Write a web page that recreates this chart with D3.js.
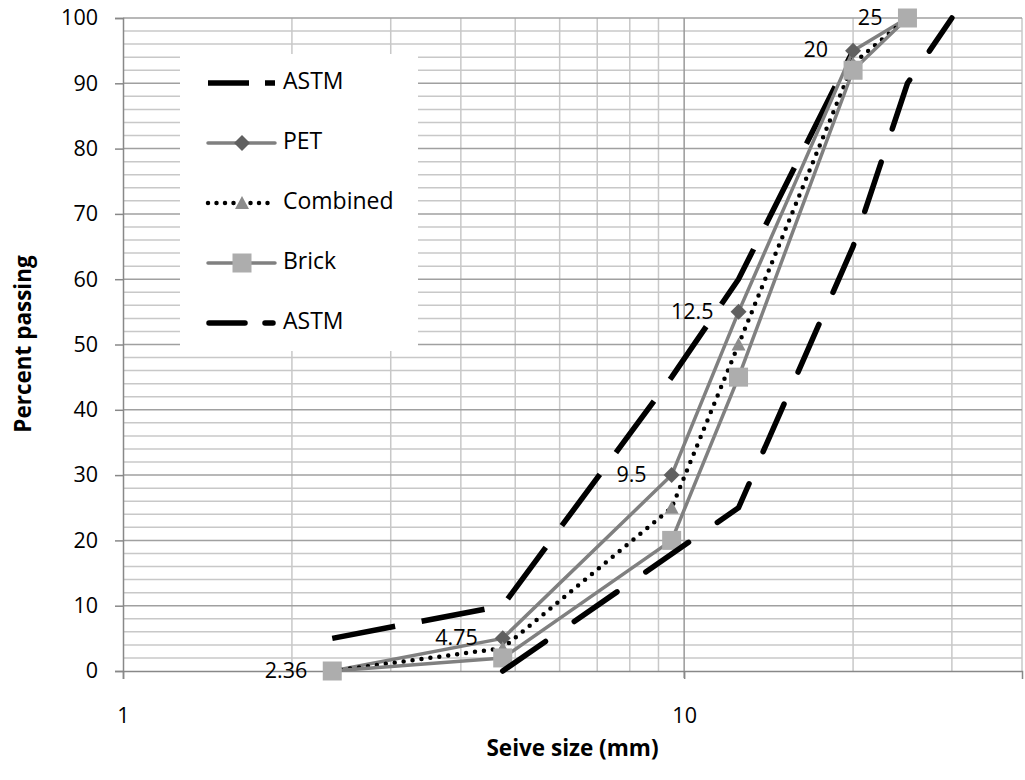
<!DOCTYPE html>
<html>
<head>
<meta charset="utf-8">
<script src="https://cdn.jsdelivr.net/npm/d3@7"></script>
<style>
  body { margin: 0; background: #fff; }
  text { font-family: "Open Sans", "Noto Sans", sans-serif; }
</style>
</head>
<body>
<script>
// sieve sizes (mm) and percent passing for each material
const sieveSizes = [2.36, 4.75, 9.5, 12.5, 20, 25];
const pet = [0, 5, 30, 55, 95, 100];
const combined = [0, 3.5, 25, 50, 93, 100];
const brick = [0, 2, 20, 45, 92, 100];

// ASTM limits, upper and lower
const astmUpperSizes = [2.36, 4.75, 9.5, 12.5, 20];
const astmUpper = [5, 10, 45, 60, 95];
const astmLowerSizes = [4.75, 12.5, 20, 25, 30];
const astmLower = [0, 25, 65, 90, 100];

const yTicks = [0, 10, 20, 30, 40, 50, 60, 70, 80, 90, 100];
const xTickLabels = [1, 10];
const legendNames = ["ASTM", "PET", "Combined", "Brick", "ASTM"];

const w = 1025;
const h = 780;
const plotLeft = 123, plotRight = 1022, plotTop = 18, plotBottom = 671;

const svg = d3.select("body")
  .append("svg")
  .attr("width", w)
  .attr("height", h);

const x = d3.scaleLog().domain([1, 40]).range([plotLeft, plotRight]);
const y = d3.scaleLinear().domain([0, 100]).range([plotBottom, plotTop]);

// gridlines
const minorY = d3.range(0, 101, 2).filter(d => d % 10 != 0);
svg.selectAll(".hminor")
  .data(minorY)
  .enter()
  .append("line")
  .attr("x1", plotLeft).attr("x2", plotRight)
  .attr("y1", d => y(d)).attr("y2", d => y(d))
  .attr("stroke", "#c8c8c8").attr("stroke-width", 1.5);

const minorX = [2, 3, 4, 5, 6, 7, 8, 9, 20, 30, 40];
svg.selectAll(".vminor")
  .data(minorX)
  .enter()
  .append("line")
  .attr("x1", d => x(d)).attr("x2", d => x(d))
  .attr("y1", plotTop).attr("y2", plotBottom)
  .attr("stroke", "#c8c8c8").attr("stroke-width", 1.5);

svg.selectAll(".hmajor")
  .data(yTicks.filter(d => d > 0))
  .enter()
  .append("line")
  .attr("x1", plotLeft).attr("x2", plotRight)
  .attr("y1", d => y(d)).attr("y2", d => y(d))
  .attr("stroke", "#a0a0a0").attr("stroke-width", 1.5);

svg.append("line")
  .attr("x1", x(10)).attr("x2", x(10))
  .attr("y1", plotTop).attr("y2", plotBottom + 7)
  .attr("stroke", "#999").attr("stroke-width", 1.5);

// axes
const yAxis = d3.axisLeft(y).tickValues(yTicks).tickSize(8).tickPadding(17);
const gy = svg.append("g").attr("transform", `translate(${plotLeft},0)`).call(yAxis);
gy.select(".domain").attr("stroke", "#888").attr("stroke-width", 1.5);
gy.selectAll(".tick line").attr("stroke", "#888").attr("stroke-width", 1.5);
gy.selectAll("text").attr("font-size", 21.5).attr("fill", "#000")
  .attr("font-family", "'Open Sans', sans-serif");

const xAxis = d3.axisBottom(x).tickValues(xTickLabels).tickFormat(d3.format("d")).tickSize(8).tickPadding(29);
const gx = svg.append("g").attr("transform", `translate(0,${plotBottom})`).call(xAxis);
gx.select(".domain").attr("stroke", "#888").attr("stroke-width", 1.5);
gx.selectAll(".tick line").attr("stroke", "#888").attr("stroke-width", 1.5);
gx.selectAll("text").attr("font-size", 21.5).attr("fill", "#000")
  .attr("font-family", "'Open Sans', sans-serif");

// axis titles
svg.append("text")
  .attr("x", (488 + 657) / 2).attr("y", 756)
  .attr("text-anchor", "middle")
  .attr("font-size", 22.5).attr("font-weight", "bold")
  .text("Seive size (mm)");

svg.append("text")
  .attr("transform", "translate(31,344) rotate(-90)")
  .attr("text-anchor", "middle")
  .attr("font-size", 22.5).attr("font-weight", "bold")
  .text("Percent passing");

// legend box sits under the series
svg.append("rect")
  .attr("x", 180).attr("y", 54)
  .attr("width", 238).attr("height", 297)
  .attr("fill", "#fff");

const line = d3.line().x(d => x(d[0])).y(d => y(d[1]));
const zip = (xs, ys) => xs.map((v, i) => [v, ys[i]]);

// upper ASTM
svg.append("path")
  .datum(zip(astmUpperSizes, astmUpper))
  .attr("d", line)
  .attr("fill", "none").attr("stroke", "#000")
  .attr("stroke-width", 5.5).attr("stroke-dasharray", "64,27");

// PET
svg.append("path")
  .datum(zip(sieveSizes, pet))
  .attr("d", line)
  .attr("fill", "none").attr("stroke", "#808080").attr("stroke-width", 3.5)
  .attr("stroke-linejoin", "round");
svg.selectAll(".pet")
  .data(zip(sieveSizes, pet))
  .enter()
  .append("path")
  .attr("transform", d => `translate(${x(d[0])},${y(d[1])})`)
  .attr("d", "M0,-8L8,0L0,8L-8,0Z")
  .attr("fill", "#606060");

// Combined
svg.append("path")
  .datum(zip(sieveSizes, combined))
  .attr("d", line)
  .attr("fill", "none").attr("stroke", "#000").attr("stroke-width", 4.5)
  .attr("stroke-linecap", "round").attr("stroke-dasharray", "0,9");
svg.selectAll(".comb")
  .data(zip(sieveSizes, combined))
  .enter()
  .append("path")
  .attr("transform", d => `translate(${x(d[0])},${y(d[1])})`)
  .attr("d", "M0,-7L7,6L-7,6Z")
  .attr("fill", "#8c8c8c");

// Brick
svg.append("path")
  .datum(zip(sieveSizes, brick))
  .attr("d", line)
  .attr("fill", "none").attr("stroke", "#808080").attr("stroke-width", 3.5)
  .attr("stroke-linejoin", "round");
svg.selectAll(".brick")
  .data(zip(sieveSizes, brick))
  .enter()
  .append("rect")
  .attr("x", d => x(d[0]) - 9.5).attr("y", d => y(d[1]) - 9.5)
  .attr("width", 19).attr("height", 19)
  .attr("fill", "#adadad");

// lower ASTM
svg.append("path")
  .datum(zip(astmLowerSizes, astmLower))
  .attr("d", line)
  .attr("fill", "none").attr("stroke", "#000")
  .attr("stroke-width", 5.5).attr("stroke-linecap", "round")
  .attr("stroke-dasharray", "52,35");

// point labels on PET
svg.selectAll(".lbl")
  .data(zip(sieveSizes, pet))
  .enter()
  .append("text")
  .attr("x", d => x(d[0]) - 25)
  .attr("y", d => y(d[1]) + 1)
  .attr("text-anchor", "end")
  .attr("dominant-baseline", "middle")
  .attr("font-size", 21.5)
  .text(d => d[0]);

// legend entries
const lg = svg.selectAll(".leg")
  .data(legendNames)
  .enter()
  .append("g")
  .attr("transform", (d, i) => `translate(207,${83 + i * 60})`);

lg.append("text")
  .attr("x", 76).attr("y", 0)
  .attr("dominant-baseline", "middle")
  .attr("font-size", 23)
  .text(d => d);

lg.each(function (d, i) {
  const g = d3.select(this);
  if (i == 0) {
    g.append("line").attr("x1", 1).attr("x2", 68)
      .attr("stroke", "#000").attr("stroke-width", 5.5).attr("stroke-dasharray", "41,16");
  } else if (i == 4) {
    g.append("line").attr("x1", 2).attr("x2", 66)
      .attr("stroke", "#000").attr("stroke-width", 5.5)
      .attr("stroke-linecap", "round").attr("stroke-dasharray", "36,20");
  } else if (i == 1) {
    g.append("line").attr("x1", 1).attr("x2", 68)
      .attr("stroke", "#808080").attr("stroke-width", 3.5).attr("stroke-linecap", "round");
    g.append("path").attr("transform", "translate(35,0)")
      .attr("d", "M0,-8L8,0L0,8L-8,0Z").attr("fill", "#606060");
  } else if (i == 2) {
    g.append("line").attr("x1", 1).attr("x2", 68)
      .attr("stroke", "#000").attr("stroke-width", 4.5)
      .attr("stroke-linecap", "round").attr("stroke-dasharray", "0,8.5");
    g.append("path").attr("transform", "translate(35,0)")
      .attr("d", "M0,-7L7,6L-7,6Z").attr("fill", "#8c8c8c");
  } else {
    g.append("line").attr("x1", 1).attr("x2", 68)
      .attr("stroke", "#808080").attr("stroke-width", 3.5).attr("stroke-linecap", "round");
    g.append("rect").attr("x", 35 - 9.5).attr("y", -9.5)
      .attr("width", 19).attr("height", 19).attr("fill", "#adadad");
  }
});
</script>
</body>
</html>
